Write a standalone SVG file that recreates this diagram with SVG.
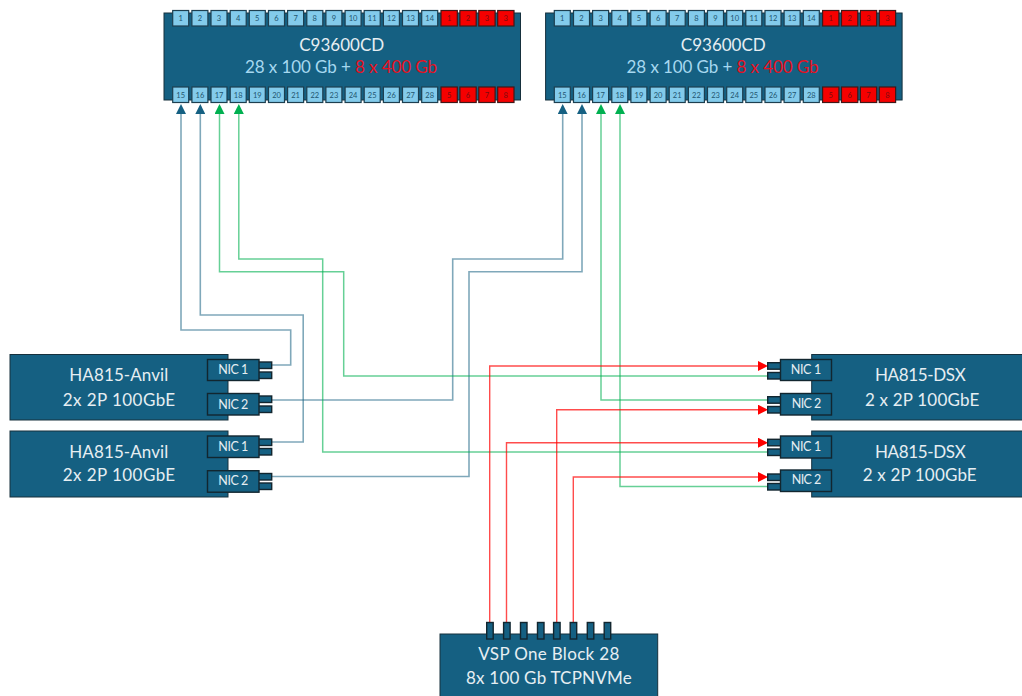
<svg xmlns="http://www.w3.org/2000/svg" width="1022" height="696" viewBox="0 0 1022 696">
<style>
text{font-family:"Lato","Open Sans","Liberation Sans",sans-serif}
.box{fill:#156082;stroke:#16303d;stroke-width:1}
.p{fill:#83cbeb;stroke:#1d3f50;stroke-width:1.2}
.r{fill:#f50000;stroke:#401818;stroke-width:1.2}
.pt{font-size:7.5px;fill:#1f5670;text-anchor:middle}
.rt{font-size:7.5px;fill:#7a0c10;text-anchor:middle}
.t{font-size:17px;fill:#e6eef2}
.c{font-size:17px;fill:#e6eef2;text-anchor:middle}
.b{fill:#a6d8f0}
.red{fill:#e8101f}
.nic{fill:#156082;stroke:#12262f;stroke-width:1.4}
.nt{font-size:12.5px;fill:#e6eef2}
.lb{fill:none;stroke:#156082;stroke-opacity:.55;stroke-width:1.6}
.lg{fill:none;stroke:#00b050;stroke-opacity:.6;stroke-width:1.5}
.lr{fill:none;stroke:#ff0000;stroke-opacity:.7;stroke-width:1.4}
</style>
<defs>
<marker id="ab" markerUnits="userSpaceOnUse" markerWidth="10" markerHeight="10" viewBox="0 0 10 10" refX="8" refY="5" orient="auto"><path d="M0 0L10 5L0 10z" fill="#156082"/></marker>
<marker id="ag" markerUnits="userSpaceOnUse" markerWidth="10" markerHeight="10" viewBox="0 0 10 10" refX="8" refY="5" orient="auto"><path d="M0 0L10 5L0 10z" fill="#00b050"/></marker>
<marker id="ar" markerUnits="userSpaceOnUse" markerWidth="10" markerHeight="10" viewBox="0 0 10 10" refX="8" refY="5" orient="auto"><path d="M0 0L10 5L0 10z" fill="#ff0000"/></marker>
</defs>
<g id="connectors">
<path class="lb" marker-end="url(#ab)" d="M272 365H290.7V330H181V106"/>
<path class="lb" marker-end="url(#ab)" d="M272 442H303.2V315H200.3V106"/>
<path class="lb" marker-end="url(#ab)" d="M272 400H452.7V259H562.7V106"/>
<path class="lb" marker-end="url(#ab)" d="M272 476.5H469V271.7H582V106"/>
<path class="lg" marker-end="url(#ag)" d="M768 376H343.7V271.7H219.5V106"/>
<path class="lg" marker-end="url(#ag)" d="M768 452H322.7V259H238.8V106"/>
<path class="lg" marker-end="url(#ag)" d="M768 400H601V106"/>
<path class="lg" marker-end="url(#ag)" d="M768 486.5H620V106"/>
<path class="lr" marker-end="url(#ar)" d="M489.7 622V366H766"/>
<path class="lr" marker-end="url(#ar)" d="M506.5 622V442.7H766"/>
<path class="lr" marker-end="url(#ar)" d="M556.7 622V409.7H766"/>
<path class="lr" marker-end="url(#ar)" d="M573.3 622V477H766"/>
</g>
<g id="switch-1">
<rect class="box" x="164" y="13" width="356.5" height="87"/>
<rect class="p" x="172.7" y="10.5" width="16" height="15.5"/><text class="pt" x="180.7" y="21">1</text>
<rect class="p" x="191.9" y="10.5" width="16" height="15.5"/><text class="pt" x="199.9" y="21">2</text>
<rect class="p" x="211" y="10.5" width="16" height="15.5"/><text class="pt" x="219" y="21">3</text>
<rect class="p" x="230.2" y="10.5" width="16" height="15.5"/><text class="pt" x="238.2" y="21">4</text>
<rect class="p" x="249.3" y="10.5" width="16" height="15.5"/><text class="pt" x="257.3" y="21">5</text>
<rect class="p" x="268.5" y="10.5" width="16" height="15.5"/><text class="pt" x="276.5" y="21">6</text>
<rect class="p" x="287.6" y="10.5" width="16" height="15.5"/><text class="pt" x="295.6" y="21">7</text>
<rect class="p" x="306.8" y="10.5" width="16" height="15.5"/><text class="pt" x="314.8" y="21">8</text>
<rect class="p" x="325.9" y="10.5" width="16" height="15.5"/><text class="pt" x="333.9" y="21">9</text>
<rect class="p" x="345.1" y="10.5" width="16" height="15.5"/><text class="pt" x="353.1" y="21">10</text>
<rect class="p" x="364.2" y="10.5" width="16" height="15.5"/><text class="pt" x="372.2" y="21">11</text>
<rect class="p" x="383.4" y="10.5" width="16" height="15.5"/><text class="pt" x="391.4" y="21">12</text>
<rect class="p" x="402.5" y="10.5" width="16" height="15.5"/><text class="pt" x="410.5" y="21">13</text>
<rect class="p" x="421.7" y="10.5" width="16" height="15.5"/><text class="pt" x="429.7" y="21">14</text>
<rect class="r" x="441" y="10.5" width="16.3" height="15.5"/><text class="rt" x="449.1" y="21">1</text>
<rect class="r" x="459.9" y="10.5" width="16.3" height="15.5"/><text class="rt" x="468" y="21">2</text>
<rect class="r" x="478.8" y="10.5" width="16.3" height="15.5"/><text class="rt" x="486.9" y="21">3</text>
<rect class="r" x="497.7" y="10.5" width="16.3" height="15.5"/><text class="rt" x="505.8" y="21">3</text>
<text class="c" x="341.7" y="50.5">C93600CD</text>
<text class="t" x="245" y="73" textLength="192"><tspan class="b">28 x 100 Gb + </tspan><tspan class="red">8 x 400 Gb</tspan></text>
<rect class="p" x="172.7" y="87" width="16" height="15.5"/><text class="pt" x="180.7" y="97.5">15</text>
<rect class="p" x="191.9" y="87" width="16" height="15.5"/><text class="pt" x="199.9" y="97.5">16</text>
<rect class="p" x="211" y="87" width="16" height="15.5"/><text class="pt" x="219" y="97.5">17</text>
<rect class="p" x="230.2" y="87" width="16" height="15.5"/><text class="pt" x="238.2" y="97.5">18</text>
<rect class="p" x="249.3" y="87" width="16" height="15.5"/><text class="pt" x="257.3" y="97.5">19</text>
<rect class="p" x="268.5" y="87" width="16" height="15.5"/><text class="pt" x="276.5" y="97.5">20</text>
<rect class="p" x="287.6" y="87" width="16" height="15.5"/><text class="pt" x="295.6" y="97.5">21</text>
<rect class="p" x="306.8" y="87" width="16" height="15.5"/><text class="pt" x="314.8" y="97.5">22</text>
<rect class="p" x="325.9" y="87" width="16" height="15.5"/><text class="pt" x="333.9" y="97.5">23</text>
<rect class="p" x="345.1" y="87" width="16" height="15.5"/><text class="pt" x="353.1" y="97.5">24</text>
<rect class="p" x="364.2" y="87" width="16" height="15.5"/><text class="pt" x="372.2" y="97.5">25</text>
<rect class="p" x="383.4" y="87" width="16" height="15.5"/><text class="pt" x="391.4" y="97.5">26</text>
<rect class="p" x="402.5" y="87" width="16" height="15.5"/><text class="pt" x="410.5" y="97.5">27</text>
<rect class="p" x="421.7" y="87" width="16" height="15.5"/><text class="pt" x="429.7" y="97.5">28</text>
<rect class="r" x="441" y="87" width="16.3" height="15.5"/><text class="rt" x="449.1" y="97.5">5</text>
<rect class="r" x="459.9" y="87" width="16.3" height="15.5"/><text class="rt" x="468" y="97.5">6</text>
<rect class="r" x="478.8" y="87" width="16.3" height="15.5"/><text class="rt" x="486.9" y="97.5">7</text>
<rect class="r" x="497.7" y="87" width="16.3" height="15.5"/><text class="rt" x="505.8" y="97.5">8</text>
</g>
<g id="switch-2" transform="translate(381.6 0)">
<rect class="box" x="164" y="13" width="356.5" height="87"/>
<rect class="p" x="172.7" y="10.5" width="16" height="15.5"/><text class="pt" x="180.7" y="21">1</text>
<rect class="p" x="191.9" y="10.5" width="16" height="15.5"/><text class="pt" x="199.9" y="21">2</text>
<rect class="p" x="211" y="10.5" width="16" height="15.5"/><text class="pt" x="219" y="21">3</text>
<rect class="p" x="230.2" y="10.5" width="16" height="15.5"/><text class="pt" x="238.2" y="21">4</text>
<rect class="p" x="249.3" y="10.5" width="16" height="15.5"/><text class="pt" x="257.3" y="21">5</text>
<rect class="p" x="268.5" y="10.5" width="16" height="15.5"/><text class="pt" x="276.5" y="21">6</text>
<rect class="p" x="287.6" y="10.5" width="16" height="15.5"/><text class="pt" x="295.6" y="21">7</text>
<rect class="p" x="306.8" y="10.5" width="16" height="15.5"/><text class="pt" x="314.8" y="21">8</text>
<rect class="p" x="325.9" y="10.5" width="16" height="15.5"/><text class="pt" x="333.9" y="21">9</text>
<rect class="p" x="345.1" y="10.5" width="16" height="15.5"/><text class="pt" x="353.1" y="21">10</text>
<rect class="p" x="364.2" y="10.5" width="16" height="15.5"/><text class="pt" x="372.2" y="21">11</text>
<rect class="p" x="383.4" y="10.5" width="16" height="15.5"/><text class="pt" x="391.4" y="21">12</text>
<rect class="p" x="402.5" y="10.5" width="16" height="15.5"/><text class="pt" x="410.5" y="21">13</text>
<rect class="p" x="421.7" y="10.5" width="16" height="15.5"/><text class="pt" x="429.7" y="21">14</text>
<rect class="r" x="441" y="10.5" width="16.3" height="15.5"/><text class="rt" x="449.1" y="21">1</text>
<rect class="r" x="459.9" y="10.5" width="16.3" height="15.5"/><text class="rt" x="468" y="21">2</text>
<rect class="r" x="478.8" y="10.5" width="16.3" height="15.5"/><text class="rt" x="486.9" y="21">3</text>
<rect class="r" x="497.7" y="10.5" width="16.3" height="15.5"/><text class="rt" x="505.8" y="21">3</text>
<text class="c" x="341.7" y="50.5">C93600CD</text>
<text class="t" x="245" y="73" textLength="192"><tspan class="b">28 x 100 Gb + </tspan><tspan class="red">8 x 400 Gb</tspan></text>
<rect class="p" x="172.7" y="87" width="16" height="15.5"/><text class="pt" x="180.7" y="97.5">15</text>
<rect class="p" x="191.9" y="87" width="16" height="15.5"/><text class="pt" x="199.9" y="97.5">16</text>
<rect class="p" x="211" y="87" width="16" height="15.5"/><text class="pt" x="219" y="97.5">17</text>
<rect class="p" x="230.2" y="87" width="16" height="15.5"/><text class="pt" x="238.2" y="97.5">18</text>
<rect class="p" x="249.3" y="87" width="16" height="15.5"/><text class="pt" x="257.3" y="97.5">19</text>
<rect class="p" x="268.5" y="87" width="16" height="15.5"/><text class="pt" x="276.5" y="97.5">20</text>
<rect class="p" x="287.6" y="87" width="16" height="15.5"/><text class="pt" x="295.6" y="97.5">21</text>
<rect class="p" x="306.8" y="87" width="16" height="15.5"/><text class="pt" x="314.8" y="97.5">22</text>
<rect class="p" x="325.9" y="87" width="16" height="15.5"/><text class="pt" x="333.9" y="97.5">23</text>
<rect class="p" x="345.1" y="87" width="16" height="15.5"/><text class="pt" x="353.1" y="97.5">24</text>
<rect class="p" x="364.2" y="87" width="16" height="15.5"/><text class="pt" x="372.2" y="97.5">25</text>
<rect class="p" x="383.4" y="87" width="16" height="15.5"/><text class="pt" x="391.4" y="97.5">26</text>
<rect class="p" x="402.5" y="87" width="16" height="15.5"/><text class="pt" x="410.5" y="97.5">27</text>
<rect class="p" x="421.7" y="87" width="16" height="15.5"/><text class="pt" x="429.7" y="97.5">28</text>
<rect class="r" x="441" y="87" width="16.3" height="15.5"/><text class="rt" x="449.1" y="97.5">5</text>
<rect class="r" x="459.9" y="87" width="16.3" height="15.5"/><text class="rt" x="468" y="97.5">6</text>
<rect class="r" x="478.8" y="87" width="16.3" height="15.5"/><text class="rt" x="486.9" y="97.5">7</text>
<rect class="r" x="497.7" y="87" width="16.3" height="15.5"/><text class="rt" x="505.8" y="97.5">8</text>
</g>
<g id="anvil-1">
<rect class="box" x="10" y="354.5" width="218" height="65.5"/>
<text class="t" x="69.3" y="380.7" textLength="99">HA815-Anvil</text>
<text class="t" x="62.7" y="405.7" textLength="112.5">2x 2P 100GbE</text>
<rect class="nic" x="256.7" y="362" width="15" height="6.5"/><rect class="nic" x="256.7" y="372" width="15" height="6.5"/>
<rect class="nic" x="207.5" y="359.5" width="51.5" height="21"/><text class="nt" x="218.3" y="374" textLength="30">NIC 1</text>
<rect class="nic" x="256.7" y="396" width="15" height="6.5"/><rect class="nic" x="256.7" y="406" width="15" height="6.5"/>
<rect class="nic" x="207.5" y="393.5" width="51.5" height="21.5"/><text class="nt" x="218.3" y="409" textLength="30">NIC 2</text>
</g>
<g id="anvil-2">
<rect class="box" x="10" y="431" width="218" height="66"/>
<text class="t" x="69.3" y="457.7" textLength="99">HA815-Anvil</text>
<text class="t" x="62.7" y="481" textLength="112.5">2x 2P 100GbE</text>
<rect class="nic" x="256.7" y="439" width="15" height="6.5"/><rect class="nic" x="256.7" y="448.5" width="15" height="6.5"/>
<rect class="nic" x="207.5" y="436" width="51.5" height="21.5"/><text class="nt" x="218.3" y="450.7" textLength="30">NIC 1</text>
<rect class="nic" x="256.7" y="473.5" width="15" height="6.5"/><rect class="nic" x="256.7" y="483" width="15" height="6.5"/>
<rect class="nic" x="207.5" y="470.7" width="51.5" height="21.5"/><text class="nt" x="218.3" y="485" textLength="30">NIC 2</text>
</g>
<g id="dsx-1">
<rect class="box" x="811.7" y="354.5" width="212" height="65.5"/>
<text class="t" x="875" y="381" textLength="90.7">HA815-DSX</text>
<text class="t" x="865" y="406" textLength="114.3">2 x 2P 100GbE</text>
<rect class="nic" x="767.7" y="362.7" width="15.5" height="6.5"/><rect class="nic" x="767.7" y="372.5" width="15.5" height="6.5"/>
<rect class="nic" x="780.5" y="359.5" width="51" height="21"/><text class="nt" x="790.7" y="374" textLength="30.5">NIC 1</text>
<rect class="nic" x="767.7" y="396.7" width="15.5" height="6.5"/><rect class="nic" x="767.7" y="406.5" width="15.5" height="6.5"/>
<rect class="nic" x="780.5" y="393.5" width="51" height="21.5"/><text class="nt" x="791.7" y="408.3" textLength="29.5">NIC 2</text>
</g>
<g id="dsx-2">
<rect class="box" x="811.7" y="431" width="212" height="66"/>
<text class="t" x="875" y="457.7" textLength="90.7">HA815-DSX</text>
<text class="t" x="862.7" y="481" textLength="114">2 x 2P 100GbE</text>
<rect class="nic" x="767.7" y="439.3" width="15.5" height="6.5"/><rect class="nic" x="767.7" y="449" width="15.5" height="6.5"/>
<rect class="nic" x="780.5" y="436" width="51" height="22"/><text class="nt" x="790.7" y="450.7" textLength="30.5">NIC 1</text>
<rect class="nic" x="767.7" y="474" width="15.5" height="6.5"/><rect class="nic" x="767.7" y="483.5" width="15.5" height="6.5"/>
<rect class="nic" x="780.5" y="470" width="51" height="21.5"/><text class="nt" x="791.7" y="484" textLength="29.5">NIC 2</text>
</g>
<g id="vsp">
<rect class="box" x="440" y="634" width="217.7" height="64"/>
<rect class="nic" x="486.7" y="622.5" width="6.5" height="16.5"/>
<rect class="nic" x="503.6" y="622.5" width="6.5" height="16.5"/>
<rect class="nic" x="520.5" y="622.5" width="6.5" height="16.5"/>
<rect class="nic" x="537.5" y="622.5" width="6.5" height="16.5"/>
<rect class="nic" x="553.6" y="622.5" width="6.5" height="16.5"/>
<rect class="nic" x="570.2" y="622.5" width="6.5" height="16.5"/>
<rect class="nic" x="587.3" y="622.5" width="6.5" height="16.5"/>
<rect class="nic" x="604.2" y="622.5" width="6.5" height="16.5"/>
<text class="t" x="478.3" y="660" textLength="141">VSP One Block 28</text>
<text class="t" x="466" y="684" textLength="165.7">8x 100 Gb TCPNVMe</text>
</g>
</svg>
